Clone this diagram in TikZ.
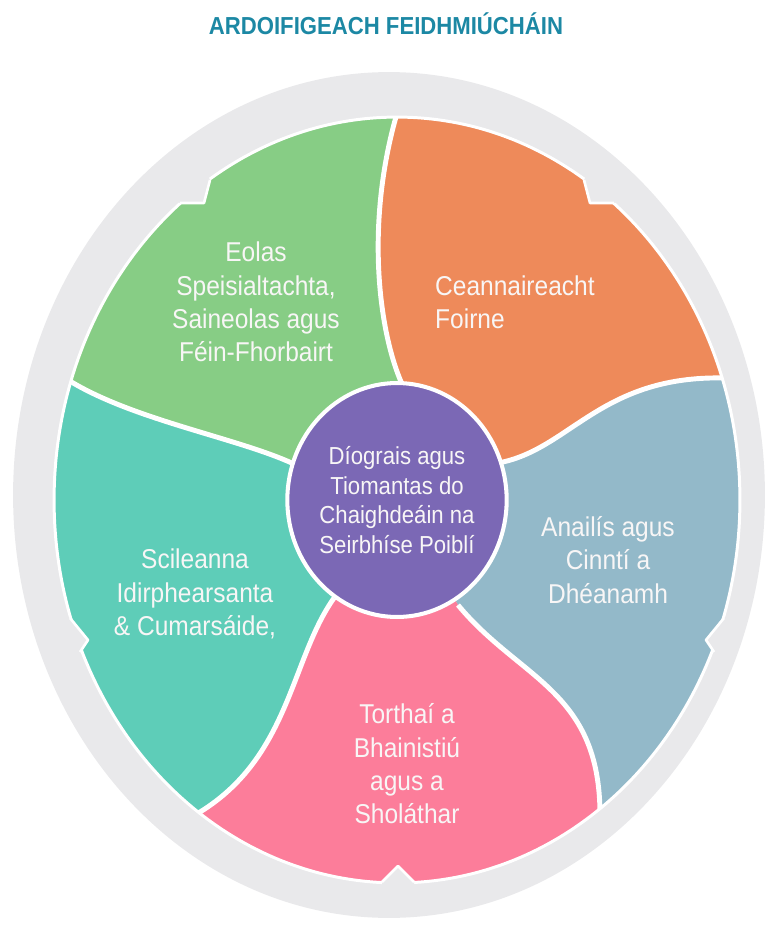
\documentclass[tikz,border=0pt]{standalone}
\usepackage{fontspec}
\setmainfont{Liberation Sans}[FakeStretch=0.9]
\usetikzlibrary{shapes.geometric}
\definecolor{ringgray}{RGB}{233,233,235}
\definecolor{titleteal}{RGB}{28,136,164}
\definecolor{petalgreen}{RGB}{135,205,133}
\definecolor{petalorange}{RGB}{238,138,90}
\definecolor{petalblue}{RGB}{147,185,201}
\definecolor{petalpink}{RGB}{252,125,154}
\definecolor{petalteal}{RGB}{94,205,184}
\definecolor{hubpurple}{RGB}{123,104,181}
\definecolor{softwhite}{RGB}{248,246,246}

\begin{document}
\begin{tikzpicture}[
    x = 0.02cm, y = -0.02cm,
    divider/.style = {draw=white, line width=2.8pt},
    notchline/.style = {draw=white, line width=1.5pt, line join=round},
    petaltext/.style = {text=softwhite, align=center, font=\fontsize{15.5}{19}\selectfont},
    hub/.style = {ellipse, fill=hubpurple, draw=white, line width=2.3pt,
        minimum width=4.2cm, minimum height=4.68cm, inner sep=0pt,
        text=softwhite, align=center, font=\fontsize{14}{17}\selectfont},
    titletext/.style = {text=titleteal, font=\bfseries\fontsize{14}{16}\selectfont}
]
    \useasboundingbox (0,0) rectangle (771,925);

    \node[titletext] (title) at (386,24) {ARDOIFIGEACH FEIDHMIÚCHÁIN};

    % outer ring
    \fill[ringgray] (389,495) ellipse [x radius=7.52cm, y radius=8.46cm];

    % divider ends: i = at the hub, o = at the rim, x = beyond the rim
    \coordinate (c) at (397,500);
    \coordinate (d1i) at (402,384); \coordinate (d1o) at (398,110); \coordinate (d1x) at (398,60);
    \coordinate (d2i) at (296,465); \coordinate (d2o) at (65,378);  \coordinate (d2x) at (20,350);
    \coordinate (d3i) at (334,598); \coordinate (d3o) at (195,815); \coordinate (d3x) at (155,840);
    \coordinate (d4i) at (458,605); \coordinate (d4o) at (600,815); \coordinate (d4x) at (600,860);
    \coordinate (d5i) at (498,463); \coordinate (d5o) at (725,378); \coordinate (d5x) at (775,380);

    \begin{scope}
        \clip (397,500) ellipse [x radius=6.86cm, y radius=7.66cm];
        \fill[petalgreen] (c) -- (d1i) .. controls (378,330) and (365,220) .. (d1o) -- (d1x)
            -- (0,40) -- (d2x) -- (d2o) .. controls (130,420) and (240,438) .. (d2i) -- cycle;
        \fill[petalorange] (c) -- (d5i) .. controls (570,450) and (600,375) .. (d5o) -- (d5x)
            -- (790,40) -- (d1x) -- (d1o) .. controls (365,220) and (378,330) .. (d1i) -- cycle;
        \fill[petalblue] (c) -- (d4i) .. controls (520,680) and (600,690) .. (d4o) -- (d4x)
            -- (790,900) -- (d5x) -- (d5o) .. controls (600,375) and (570,450) .. (d5i) -- cycle;
        \fill[petalpink] (c) -- (d3i) .. controls (290,660) and (290,760) .. (d3o) -- (d3x)
            -- (397,940) -- (d4x) -- (d4o) .. controls (600,690) and (520,680) .. (d4i) -- cycle;
        \fill[petalteal] (c) -- (d2i) .. controls (240,438) and (130,420) .. (d2o) -- (d2x)
            -- (0,900) -- (d3x) -- (d3o) .. controls (290,760) and (290,660) .. (d3i) -- cycle;

        \draw[divider] (d1i) .. controls (378,330) and (365,220) .. (d1o) -- (d1x);
        \draw[divider] (d2i) .. controls (240,438) and (130,420) .. (d2o) -- (d2x);
        \draw[divider] (d3i) .. controls (290,660) and (290,760) .. (d3o) -- (d3x);
        \draw[divider] (d4i) .. controls (520,680) and (600,690) .. (d4o) -- (d4x);
        \draw[divider] (d5i) .. controls (570,450) and (600,375) .. (d5o) -- (d5x);
    \end{scope}
    \draw[white, line width=1.7pt] (397,500) ellipse [x radius=6.86cm, y radius=7.66cm];

    % small notches in the rim
    \fill[ringgray] (210,180) -- (204,203) -- (180,203) -- (170,198) -- (205,170) -- cycle;
    \draw[notchline] (210,180) -- (204,203) -- (180,203);
    \fill[ringgray] (584,180) -- (590,203) -- (614,203) -- (624,198) -- (589,170) -- cycle;
    \draw[notchline] (584,180) -- (590,203) -- (614,203);
    \fill[ringgray] (70,618) -- (88,640) -- (80,652) -- (70,656) -- (60,616) -- cycle;
    \draw[notchline] (70,618) -- (88,640) -- (80,652);
    \fill[ringgray] (724,618) -- (706,640) -- (714,652) -- (724,656) -- (734,616) -- cycle;
    \draw[notchline] (724,618) -- (706,640) -- (714,652);
    \fill[ringgray] (382,882) -- (398,866) -- (414,882) -- (414,892) -- (382,892) -- cycle;
    \draw[notchline] (382,882) -- (398,866) -- (414,882);

    \node[hub] (hub) at (397,500) {Díograis agus\\Tiomantas do\\Chaighdeáin na\\Seirbhíse Poiblí};

    \node[petaltext] (knowledge) at (256,302) {Eolas\\Speisialtachta,\\Saineolas agus\\Féin-Fhorbairt};
    \node[petaltext, align=left, anchor=west] (leadership) at (429,302) {Ceannaireacht\\Foirne};
    \node[petaltext] (analysis) at (608,560) {Anailís agus\\Cinntí a\\Dhéanamh};
    \node[petaltext] (results) at (407,764) {Torthaí a\\Bhainistiú\\agus a\\Sholáthar};
    \node[petaltext] (skills) at (195,594) {Scileanna\\Idirphearsanta\\\& Cumarsáide,};
\end{tikzpicture}
\end{document}
